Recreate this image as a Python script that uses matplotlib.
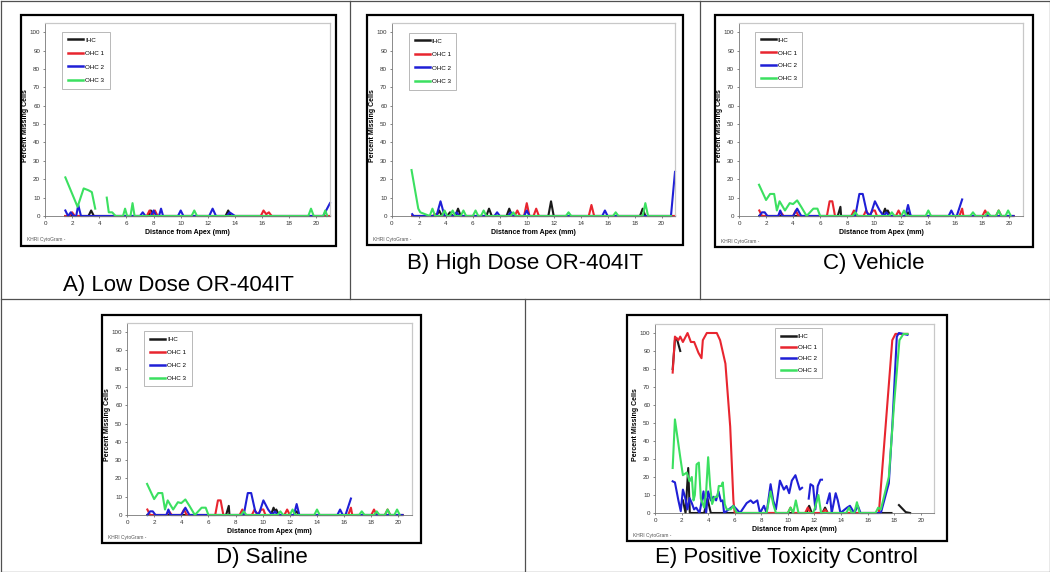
import numpy as np
import matplotlib
matplotlib.use("Agg")
import matplotlib.pyplot as plt
from matplotlib.patches import Rectangle
from matplotlib.lines import Line2D

plt.rcParams['font.family'] = ['Liberation Sans', 'DejaVu Sans']

# ---- data: [distance from apex (mm), percent missing cells] ----
names = ['IHC', 'OHC 1', 'OHC 2', 'OHC 3']
colors = ['#1a1a1a', '#e8252f', '#1f1fd6', '#3be060']
nan = np.nan

# A) Low dose
low_ihc = [[1.5, 0], [3.2, 0], [3.4, 3], [3.6, 0], [7.6, 0], [7.8, 3], [8.0, 0],
           [13.3, 0], [13.5, 3], [13.7, 0], [21.0, 0]]
low_ohc1 = [[1.5, 0], [1.8, 0], [2.0, 2], [2.2, 0], [7.5, 0], [7.7, 3], [7.9, 0],
            [8.1, 3], [8.3, 0], [15.9, 0], [16.1, 3], [16.3, 1], [16.5, 2], [16.7, 0], [21.0, 0]]
low_ohc2 = [[1.5, 3], [1.7, 0], [1.9, 2], [2.1, 0], [2.3, 0], [2.45, 6], [2.65, 0],
            [7.0, 0], [7.2, 2], [7.4, 0], [7.8, 0], [8.0, 3], [8.2, 0], [8.4, 0], [8.55, 4],
            [8.7, 0], [9.8, 0], [10.0, 3], [10.2, 0], [12.1, 0], [12.35, 4], [12.6, 0],
            [13.4, 0], [13.6, 2], [13.8, 1], [14.0, 0], [20.5, 0], [21.0, 7]]
low_ohc3 = [[1.5, 21], [2.4, 5], [2.85, 15], [3.2, 14], [3.45, 13], [3.7, 4], [nan, nan],
            [4.55, 10], [4.7, 2], [4.95, 2], [5.2, 0], [5.75, 0], [5.9, 4], [6.05, 0],
            [6.3, 0], [6.45, 7], [6.6, 0], [10.8, 0], [11.0, 3], [11.2, 0], [19.4, 0],
            [19.6, 4], [19.8, 0], [20.5, 0], [20.65, 3], [20.8, 0]]

# B) High dose
high_ihc = [[1.5, 0], [3.3, 0], [3.5, 3], [3.7, 0], [4.1, 0], [4.3, 2], [4.5, 0], [4.7, 0],
            [4.9, 4], [5.1, 0], [7.0, 0], [7.2, 4], [7.4, 0], [8.5, 0], [8.7, 4], [8.9, 0],
            [11.6, 0], [11.8, 8], [12.0, 0], [18.4, 0], [18.6, 4], [18.8, 0], [21.0, 0]]
high_ohc1 = [[1.5, 0], [3.0, 0], [3.2, 1], [3.4, 0], [9.1, 0], [9.3, 3], [9.5, 0], [9.8, 0],
             [10.0, 7], [10.2, 0], [10.5, 0], [10.7, 4], [10.9, 0], [14.6, 0], [14.8, 6],
             [15.0, 0], [21.0, 0]]
high_ohc2 = [[1.5, 1], [1.6, 0], [3.3, 0], [3.6, 8], [3.9, 0], [4.6, 0], [4.8, 2], [5.0, 0],
             [7.6, 0], [7.8, 2], [8.0, 0], [8.6, 0], [8.8, 2], [9.0, 0], [9.8, 0], [10.0, 3],
             [10.2, 0], [15.6, 0], [15.8, 3], [16.0, 0], [20.7, 0], [21.0, 24]]
high_ohc3 = [[1.45, 25], [1.95, 4], [2.1, 2], [2.8, 0], [3.0, 4], [3.2, 0], [3.7, 0], [3.9, 3],
             [4.1, 0], [4.3, 0], [4.5, 3], [4.7, 0], [5.1, 0], [5.3, 3], [5.5, 0], [6.0, 0],
             [6.2, 3], [6.4, 0], [6.6, 0], [6.8, 3], [7.0, 0], [8.8, 0], [9.0, 2], [9.2, 0],
             [12.9, 0], [13.1, 2], [13.3, 0], [16.4, 0], [16.6, 2], [16.8, 0], [18.6, 0],
             [18.8, 7], [19.0, 0], [20.7, 0]]

# C) Vehicle
veh_ihc = [[1.5, 0], [7.3, 0], [7.5, 5], [7.55, 0], [10.6, 0], [10.8, 4], [10.9, 2],
           [11.0, 3], [11.2, 0], [12.3, 0], [12.5, 2], [12.7, 0], [20.3, 0]]
veh_ohc1 = [[1.5, 3], [1.7, 0], [2.9, 0], [3.1, 2], [3.3, 0], [4.0, 0], [4.2, 3], [4.4, 0],
            [6.5, 0], [6.7, 8], [6.9, 8], [7.1, 0], [8.3, 0], [8.5, 3], [8.7, 0], [9.2, 0],
            [9.4, 3], [9.6, 0], [9.9, 3], [10.05, 3], [10.2, 0], [11.6, 0], [11.8, 3],
            [12.0, 0], [16.3, 0], [16.5, 4], [16.6, 0], [18.0, 0], [18.2, 3], [18.4, 0],
            [19.0, 0], [19.2, 3], [19.4, 0], [20.3, 0]]
veh_ohc2 = [[1.5, 0], [1.7, 2], [1.9, 2], [2.1, 0], [2.9, 0], [3.05, 3], [3.2, 0], [4.0, 0],
            [4.3, 4], [4.6, 0], [8.6, 0], [8.9, 12], [9.15, 12], [9.45, 2], [9.7, 0],
            [10.05, 8], [10.4, 3], [10.7, 0], [10.9, 2], [11.1, 0], [12.3, 0], [12.5, 6],
            [12.7, 0], [15.5, 0], [15.7, 3], [15.9, 0], [16.1, 0], [16.5, 9], [nan, nan],
            [17.0, 0], [20.3, 0]]
veh_ohc3 = [[1.48, 17], [2.0, 8.7], [2.3, 12], [2.6, 12], [2.8, 3], [3.0, 8], [3.4, 3],
            [3.75, 7], [4.0, 6.5], [4.3, 8.5], [4.6, 5], [5.0, 0], [5.5, 4], [5.8, 4],
            [6.0, 0], [8.4, 0], [8.6, 2], [8.8, 0], [11.1, 0], [11.3, 2], [11.5, 0],
            [12.0, 0], [12.2, 3], [12.4, 0], [13.8, 0], [14.0, 3], [14.2, 0], [17.1, 0],
            [17.3, 2], [17.5, 0], [18.2, 0], [18.4, 2], [18.6, 0], [19.0, 0], [19.2, 3],
            [19.4, 0], [19.7, 0], [19.9, 3], [20.1, 0]]

# D) Saline (same traces as read from the picture)
sal_ihc = [list(p) for p in veh_ihc]
sal_ohc1 = [list(p) for p in veh_ohc1]
sal_ohc2 = [list(p) for p in veh_ohc2]
sal_ohc3 = [list(p) for p in veh_ohc3]

# E) Positive toxicity control
pos_ihc = [[1.33, 80], [1.5, 96], [1.64, 97], [1.9, 90], [nan, nan], [2.1, 7], [2.3, 0],
           [2.5, 25], [2.62, 0], [2.8, 0], [3.7, 0], [3.95, 8], [4.2, 0], [11.4, 0],
           [11.6, 4], [11.8, 0], [12.6, 0], [12.8, 3], [13.0, 0], [17.8, 0], [nan, nan],
           [18.36, 4.4], [18.87, 0.5], [19.2, 0]]
pos_ohc1 = [[1.33, 78], [1.5, 98], [1.76, 96], [1.9, 98], [2.1, 95], [2.45, 100], [2.7, 95],
            [2.95, 95], [3.27, 89], [3.5, 86], [3.6, 96], [3.9, 100], [4.65, 100], [4.9, 96],
            [5.3, 83], [5.66, 48], [5.9, 7], [6.0, 0], [10.0, 0], [10.2, 3], [10.4, 0],
            [11.3, 0], [11.5, 3], [11.7, 0], [12.6, 0], [12.8, 2], [13.0, 0], [16.85, 0],
            [17.86, 96], [18.1, 99.5], [19.0, 99.5]]
pos_ohc2 = [[1.33, 17.6], [1.5, 17], [1.76, 7], [1.94, 1], [2.1, 13], [2.26, 9], [2.44, 2],
            [2.6, 8.3], [2.77, 5.5], [2.94, 2], [3.1, 3], [3.35, 0], [3.65, 12], [3.85, 0],
            [4.0, 12], [4.2, 7], [4.4, 9], [4.6, 7], [4.78, 12], [4.96, 6.5], [5.1, 7],
            [5.2, 0], [5.9, 4], [6.16, 2], [6.4, 0], [6.9, 5.5], [7.2, 7], [7.4, 5.5],
            [7.7, 7], [7.9, 0], [8.2, 4], [8.4, 0], [8.7, 16], [8.9, 7], [9.1, 2], [9.4, 18],
            [9.7, 13], [9.9, 15], [10.1, 11], [10.3, 18], [10.57, 21], [10.9, 13],
            [11.07, 14], [nan, nan], [11.57, 8], [11.7, 16], [11.9, 15], [12.07, 2],
            [12.25, 15], [12.45, 18.5], [12.57, 18.5], [nan, nan], [12.95, 5.5], [13.15, 11],
            [13.3, 0], [13.6, 11], [13.76, 7], [13.96, 0], [14.46, 3], [14.67, 4], [15.0, 0],
            [15.27, 4], [15.47, 0], [17.0, 0], [17.6, 16.5], [17.86, 48], [18.2, 98],
            [18.36, 100], [19.0, 99]]
pos_ohc3 = [[1.33, 25], [1.5, 52], [1.9, 31], [2.1, 21], [2.4, 22.5], [2.6, 17.6],
            [2.77, 20], [2.9, 7], [3.0, 10], [3.13, 27], [3.3, 28], [3.45, 8], [3.7, 3],
            [3.85, 12], [4.0, 31], [4.15, 15], [4.3, 5], [4.5, 9], [4.7, 9], [4.8, 15],
            [5.0, 15], [5.1, 17], [5.25, 5], [5.4, 2], [5.7, 2], [5.9, 4], [6.15, 0],
            [8.4, 0], [8.7, 12], [8.9, 5], [9.1, 0], [10.0, 0], [10.2, 3], [10.4, 0],
            [10.6, 7], [10.8, 0], [11.9, 0], [12.05, 3], [12.3, 10], [12.5, 0], [14.4, 0],
            [14.6, 3], [14.8, 0], [15.0, 0], [15.2, 6], [15.4, 0], [16.6, 0], [16.8, 3],
            [17.0, 2], [17.6, 20], [18.0, 61], [18.4, 96], [18.7, 99.5], [19.0, 99.5]]

captions = ['A) Low Dose OR-404IT', 'B) High Dose OR-404IT', 'C) Vehicle',
            'D) Saline', 'E) Positive Toxicity Control']

W, H = 1050, 572
fig = plt.figure(figsize=(W / 100, H / 100), dpi=100)


def fx(x):
    return x / W


def fy(y):
    return 1 - y / H


def line(x0, y0, x1, y1):
    fig.add_artist(Line2D([fx(x0), fx(x1)], [fy(y0), fy(y1)], transform=fig.transFigure,
                          color='#505050', lw=0.9))


# table grid around the panels
line(0.5, 0.5, 1049.5, 0.5)
line(0.5, 571.5, 1049.5, 571.5)
line(0.5, 0.5, 0.5, 571.5)
line(1049.5, 0.5, 1049.5, 571.5)
line(0.5, 299, 1049.5, 299)
line(350, 0.5, 350, 299)
line(700, 0.5, 700, 299)
line(525, 299, 525, 571.5)


def panel(series, caption, box, frame, cap_xy, leg_xy, leg_space):
    l, t, r, b = box
    ax = fig.add_axes([fx(l), fy(b), fx(r - l), (b - t) / H])
    for pts, name, c in zip(series, names, colors):
        arr = np.array(pts, dtype=float)
        ax.plot(arr[:, 0], arr[:, 1], color=c, lw=1.5, label=name, clip_on=False,
                solid_joinstyle='round')
    ax.set_xlim(0, 21)
    ax.set_ylim(0, 105)
    ax.set_xticks(np.arange(0, 21, 2))
    ax.set_yticks(np.arange(0, 101, 10))
    ax.tick_params(labelsize=4.5, length=1.5, width=0.5, pad=2, colors='#555555',
                   labelcolor='#333333')
    for side in ['top', 'right']:
        ax.spines[side].set_color('#c8c8c8')
        ax.spines[side].set_linewidth(0.9)
    for side in ['left', 'bottom']:
        ax.spines[side].set_color('#777777')
        ax.spines[side].set_linewidth(0.6)
    ax.set_xlabel('Distance from Apex (mm)', fontsize=5, fontweight='bold', labelpad=2)
    ax.set_ylabel('Percent Missing Cells', fontsize=5, fontweight='bold')
    ax.yaxis.set_label_coords(-16.0 / (r - l), 0.47)
    leg = ax.legend(loc='upper left', bbox_to_anchor=leg_xy, fontsize=4.5, frameon=True,
                    fancybox=False, edgecolor='#999999', handlelength=2.4,
                    handletextpad=0.35, labelspacing=leg_space, borderpad=0.9,
                    borderaxespad=0)
    leg.get_frame().set_linewidth(0.6)
    for h in leg.get_lines():
        h.set_linewidth(1.8)

    fl, ft, fr, fb = frame
    fig.add_artist(Rectangle((fx(fl), fy(fb)), fx(fr - fl), (fb - ft) / H,
                             transform=fig.transFigure, fill=False, edgecolor='black', lw=1.6))
    fig.text(fx(fl + 6), fy(fb - 6), 'KHRI CytoGram -', fontsize=3.5, color='#555555',
             va='center', ha='left')
    fig.text(fx(cap_xy[0]), fy(cap_xy[1]), caption, fontsize=16, ha='center', va='center')


panel([low_ihc, low_ohc1, low_ohc2, low_ohc3], captions[0],
      (45, 23, 330, 216), (21, 15, 336, 246), (178, 285), (0.06, 0.955), 1.3)
panel([high_ihc, high_ohc1, high_ohc2, high_ohc3], captions[1],
      (392, 23, 675, 216), (367, 15, 683, 245), (525, 263), (0.06, 0.95), 1.3)
panel([veh_ihc, veh_ohc1, veh_ohc2, veh_ohc3], captions[2],
      (739, 23, 1023, 216), (715, 15, 1033, 247), (874, 263), (0.056, 0.955), 1.2)
panel([sal_ihc, sal_ohc1, sal_ohc2, sal_ohc3], captions[3],
      (127, 323, 412, 515), (102, 315, 421, 543), (262, 557), (0.06, 0.958), 1.2)
panel([pos_ihc, pos_ohc1, pos_ohc2, pos_ohc3], captions[4],
      (655, 324, 934, 513), (627, 315, 947, 541), (786, 557), (0.43, 0.98), 0.95)

fig.savefig('out.png', dpi=100)
